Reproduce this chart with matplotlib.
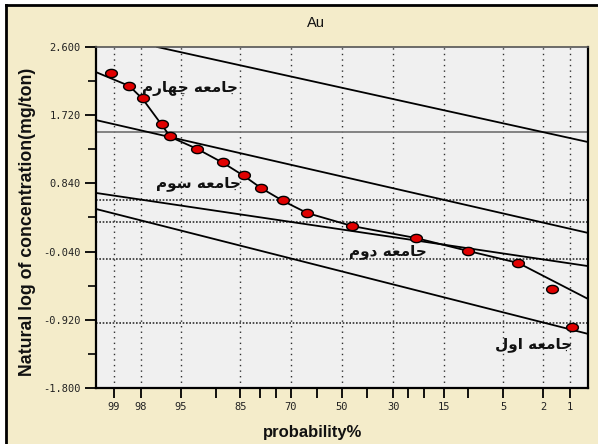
import matplotlib
matplotlib.use('Agg')
import matplotlib.pyplot as plt
from matplotlib.patches import Rectangle
from matplotlib.lines import Line2D
from statistics import NormalDist
import numpy as np

# cumulative probability (%) and natural log of Au concentration (mg/ton)
prob = [99.08, 98.5, 97.9, 96.7, 96.0, 93.0, 88.7, 84.1, 79.6, 72.6,
        63.9, 45.9, 22.5, 9.9, 3.6, 1.6, 0.95]
ln_au = [2.265, 2.097, 1.942, 1.606, 1.452, 1.284, 1.116, 0.948, 0.781, 0.626,
         0.458, 0.290, 0.135, -0.032, -0.187, -0.523, -1.013]

# hand drawn curve through the samples
curve_prob = [99.4, 98.5, 97.9, 96.7, 96.0, 93.0, 88.7, 84.1, 79.6, 72.6,
              63.9, 45.9, 22.5, 9.9, 3.6, 0.6]
curve_val = [2.277, 2.097, 1.929, 1.594, 1.439, 1.284, 1.103, 0.935, 0.781, 0.613,
             0.458, 0.290, 0.135, -0.032, -0.187, -0.652]

# straight lines of the populations: value = intercept + slope * z
pop_names = ['جامعه چهارم', 'جامعه سوم', 'جامعه دوم', 'جامعه اول']
pop_intercept = [2.074, 0.929, 0.245, -0.296]
pop_slope = [0.279, 0.290, 0.188, 0.321]
label_prob = [93.95, 92.8, 31.9, 2.56]
label_val = [2.071, 0.845, -0.045, -1.245]

# threshold lines
thresholds = [1.503, 0.626, 0.342, -0.135, -0.961]

xtick_prob = [99, 98, 95, 90, 85, 80, 75, 70, 60, 50, 40, 30, 25, 20, 15, 10, 5, 2, 1]
xtick_shown = [99, 98, 95, 85, 70, 50, 30, 15, 5, 2, 1]
yticks = [2.6, 1.72, 0.84, -0.04, -0.92, -1.8]

nd = NormalDist()
def z(p):
    if np.ndim(p) == 0:
        return nd.inv_cdf(p / 100.0)
    return np.array([nd.inv_cdf(v / 100.0) for v in p])

# minimal arabic shaping (presentation forms, visual order)
FORMS = {
    'ا': ('\uFE8D', '\uFE8E', None, None),
    'ج': ('\uFE9D', '\uFE9E', '\uFE9F', '\uFEA0'),
    'چ': ('\uFB7A', '\uFB7B', '\uFB7C', '\uFB7D'),
    'د': ('\uFEA9', '\uFEAA', None, None),
    'ر': ('\uFEAD', '\uFEAE', None, None),
    'س': ('\uFEB1', '\uFEB2', '\uFEB3', '\uFEB4'),
    'ع': ('\uFEC9', '\uFECA', '\uFECB', '\uFECC'),
    'ل': ('\uFEDD', '\uFEDE', '\uFEDF', '\uFEE0'),
    'م': ('\uFEE1', '\uFEE2', '\uFEE3', '\uFEE4'),
    'ه': ('\uFEE9', '\uFEEA', '\uFEEB', '\uFEEC'),
    'و': ('\uFEED', '\uFEEE', None, None),
}

def shape(word):
    out = []
    for i, ch in enumerate(word):
        if ch not in FORMS:
            out.append(ch)
            continue
        prev = word[i - 1] if i > 0 else None
        nxt = word[i + 1] if i < len(word) - 1 else None
        jp = prev in FORMS and FORMS[prev][2] is not None
        jn = FORMS[ch][2] is not None and nxt in FORMS
        iso, fin, ini, med = FORMS[ch]
        if jp and jn:
            out.append(med)
        elif jp:
            out.append(fin)
        elif jn:
            out.append(ini)
        else:
            out.append(iso)
    return ''.join(reversed(out))


fig = plt.figure(figsize=(5.98, 4.44), dpi=100, facecolor='white')
W, H = 598, 444
fig.patches.append(Rectangle((5 / W, 0), 1, 1 - 5 / H, transform=fig.transFigure,
                             facecolor='#F4ECCA', edgecolor='none', zorder=-10))
fig.lines.append(Line2D([5.5 / W, 5.5 / W], [0, 1 - 5.5 / H], transform=fig.transFigure,
                        color='black', lw=2))
fig.lines.append(Line2D([5.5 / W, 1], [1 - 5.5 / H, 1 - 5.5 / H], transform=fig.transFigure,
                        color='black', lw=2))

ax = fig.add_axes([96 / W, 1 - 388 / H, 492 / W, 341 / H])
ax.set_facecolor('#F0F0F0')
ax.set_xlim(2.51, -2.51)
ax.set_ylim(-1.8, 2.6)

# vertical grid at labelled probabilities
for p in xtick_shown:
    ax.axvline(z(p), color='#303030', lw=1, ls=(0, (1, 3)), zorder=1)

for i, t in enumerate(thresholds):
    if i == 0:
        ax.axhline(t, color='#7a7a7a', lw=1.3, zorder=1)
    else:
        ax.axhline(t, color='#303030', lw=1.2, ls=(0, (1, 1)), zorder=1)

for b, s in zip(pop_intercept, pop_slope):
    ax.axline((0, b), slope=s, color='black', lw=1.3, zorder=2)

ax.plot(z(curve_prob), curve_val, color='black', lw=1.3, zorder=2)

ell = np.linspace(0, 2 * np.pi, 30)
marker = np.column_stack([np.cos(ell), 0.7 * np.sin(ell)])
ax.plot(z(prob), ln_au, ls='none', marker=marker, markersize=8.5,
        markerfacecolor='#E00000', markeredgecolor='black', markeredgewidth=1, zorder=3)

for name, lp, lv in zip(pop_names, label_prob, label_val):
    ax.text(z(lp), lv, shape(name), fontsize=11, fontfamily='DejaVu Sans',
            fontweight='bold', ha='center', va='center', color='#111111', zorder=4)

ax.set_xticks(z(xtick_prob))
ax.set_xticklabels([str(p) if p in xtick_shown else '' for p in xtick_prob])
ax.set_yticks(yticks)
ax.set_yticklabels(['%.3f' % v for v in yticks])
ax.set_yticks([(a + b) / 2 for a, b in zip(yticks[:-1], yticks[1:])], minor=True)
ax.tick_params(axis='both', which='major', length=8, width=1.3, color='black',
               labelsize=7.5, labelcolor='#222222', pad=3)
ax.tick_params(axis='y', which='minor', length=6, width=1.2, color='black')
ax.tick_params(axis='x', which='major', length=7)
for lbl in ax.get_xticklabels() + ax.get_yticklabels():
    lbl.set_fontfamily('DejaVu Sans Mono')

for side in ['left', 'bottom', 'right']:
    ax.spines[side].set_color('black')
    ax.spines[side].set_linewidth(1.6)
ax.spines['top'].set_color('#555555')
ax.spines['top'].set_linewidth(1.2)

fig.text(316 / W, 1 - 23 / H, 'Au', fontsize=10.5, fontfamily='Liberation Sans',
         ha='center', va='center', color='#111111')
fig.text(28 / W, 1 - 222 / H, 'Natural log of concentration(mg/ton)', rotation=90,
         fontsize=12.8, fontfamily='Liberation Sans', fontweight='bold',
         ha='center', va='center', color='#111111')
fig.text(313 / W, 1 - 432 / H, 'probability%', fontsize=12, fontfamily='Liberation Sans',
         fontweight='bold', ha='center', va='center', color='#111111')

fig.savefig('out.png', dpi=100, facecolor=fig.get_facecolor())
